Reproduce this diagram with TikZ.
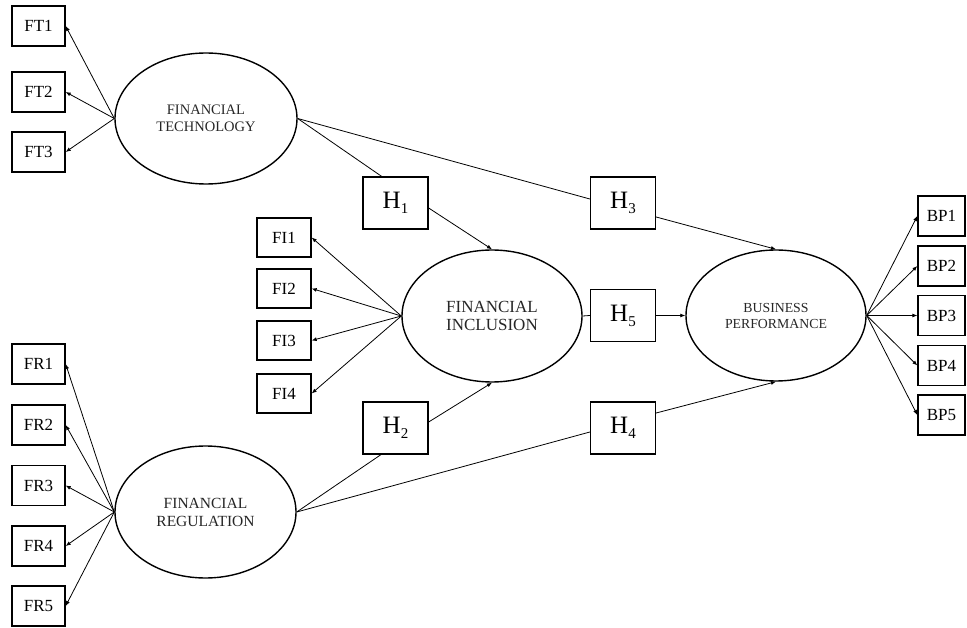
\documentclass[tikz,border=0pt]{standalone}
\usepackage{fontspec}
\setmainfont{Liberation Serif}
\usetikzlibrary{arrows.meta,shapes.geometric,calc}
\newcommand{\hyp}[1]{\fontsize{25}{25}\selectfont H\raisebox{-5pt}{\fontsize{15}{15}\selectfont #1}}
\begin{document}
\begin{tikzpicture}[x=1pt,y=-1pt,
  ind/.style={draw,rectangle,line width=1.3pt,inner sep=0pt,minimum width=53pt,minimum height=40pt,font=\fontsize{17}{17}\selectfont},
  hbox/.style={draw,rectangle,line width=1.3pt,inner sep=0pt,minimum width=65pt,minimum height=52pt},
  lat/.style={draw,ellipse,line width=1.4pt,inner sep=0pt,align=center,text=black!85},
  ld/.style={line width=0.8pt,-{Latex[length=5pt,width=4pt]}},
  pl/.style={line width=0.8pt}]
\useasboundingbox (0,0) rectangle (967,628);
% latent variables
\node[lat,minimum width=182pt,minimum height=131pt,font=\fontsize{14.5}{17}\selectfont] (FT) at (206,118.5) {FINANCIAL\\TECHNOLOGY};
\node[lat,minimum width=180pt,minimum height=132pt,font=\fontsize{17}{18}\selectfont] (FI) at (492,316) {FINANCIAL\\INCLUSION};
\node[lat,minimum width=180pt,minimum height=131pt,font=\fontsize{13.8}{16}\selectfont] (BP) at (776,315.5) {BUSINESS\\PERFORMANCE};
\node[lat,minimum width=181pt,minimum height=132pt,font=\fontsize{15.5}{18}\selectfont] (FR) at (205.5,512) {FINANCIAL\\REGULATION};
% indicators
\node[ind] (FT1) at (38.5,26) {FT1};
\node[ind] (FT2) at (38.5,92) {FT2};
\node[ind] (FT3) at (38.5,152) {FT3};
\node[ind,minimum width=54pt,minimum height=39pt] (FI1) at (284,237.5) {FI1};
\node[ind,minimum width=54pt,minimum height=39pt] (FI2) at (284,288.5) {FI2};
\node[ind,minimum width=54pt,minimum height=39pt] (FI3) at (284,340.5) {FI3};
\node[ind,minimum width=54pt,minimum height=39pt] (FI4) at (284,393.5) {FI4};
\node[ind] (FR1) at (38.5,364) {FR1};
\node[ind] (FR2) at (38.5,425) {FR2};
\node[ind] (FR3) at (38.5,485.5) {FR3};
\node[ind] (FR4) at (38.5,546) {FR4};
\node[ind] (FR5) at (38.5,606) {FR5};
\node[ind,minimum width=47pt] (BP1) at (941.5,216) {BP1};
\node[ind,minimum width=47pt] (BP2) at (941.5,266) {BP2};
\node[ind,minimum width=47pt] (BP3) at (941.5,315.5) {BP3};
\node[ind,minimum width=47pt] (BP4) at (941.5,365.5) {BP4};
\node[ind,minimum width=47pt] (BP5) at (941.5,415) {BP5};
% hypotheses
\node[hbox] (H1) at (395.5,203) {\hyp{1}};
\node[hbox] (H3) at (623,203) {\hyp{3}};
\node[hbox] (H5) at (623,315.5) {\hyp{5}};
\node[hbox] (H2) at (395.5,428) {\hyp{2}};
\node[hbox] (H4) at (623,428) {\hyp{4}};
% loadings
\foreach \i in {1,2,3} \draw[ld] (FT.west) -- (FT\i.east);
\foreach \i in {1,2,3,4} \draw[ld] (FI.west) -- (FI\i.east);
\foreach \i in {1,2,3,4,5} \draw[ld] (FR.west) -- (FR\i.east);
\foreach \i in {1,2,3,4,5} \draw[ld] (BP.east) -- (BP\i.west);
% structural paths
\draw[pl] (FT.east) -- ($(H1.north west)!0.29!(H1.north east)$);
\draw[ld] ([yshift=-5pt]H1.east) -- (FI.north);
\draw[pl] (FT.east) -- ([yshift=4pt]H3.west);
\draw[ld] ([yshift=-14pt]H3.east) -- (BP.north);
\draw[pl] (FI.east) -- (H5.west);
\draw[ld] (H5.east) -- (BP.west);
\draw[pl] (FR.east) -- ($(H2.south west)!0.28!(H2.south east)$);
\draw[ld] ([yshift=6pt]H2.east) -- (FI.south);
\draw[pl] (FR.east) -- ([yshift=-4pt]H4.west);
\draw[ld] ([yshift=15pt]H4.east) -- (BP.south);
\end{tikzpicture}
\end{document}
